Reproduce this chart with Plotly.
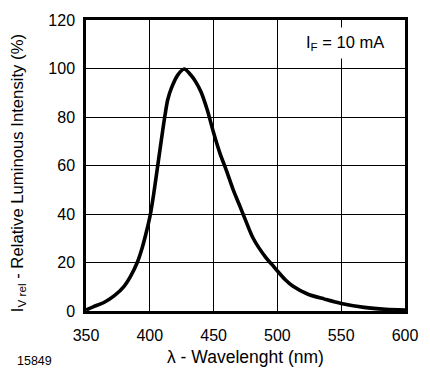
import plotly.graph_objects as go

wavelength = [350, 356, 364, 372, 380, 385, 390, 394, 397.5, 400.5, 403, 406.5, 410, 412, 414, 417,
              422, 427, 432, 436, 440, 445, 450, 455, 460, 465, 470, 475, 481, 491, 496, 500, 506, 512,
              524, 537, 550, 568, 585, 600]
intensity = [0.4, 1.8, 3.5, 6.2, 10.3, 14.4, 19.8, 26, 33, 40, 48, 61, 74, 81, 87, 92,
             97.4, 99.8, 97.4, 94.5, 90.5, 83, 73.5, 65, 58, 50.5, 44, 37.5, 30, 22, 19, 16.5, 13, 10.3,
             6.9, 4.9, 3.1, 1.5, 0.7, 0.4]

x_ticks = [350, 400, 450, 500, 550, 600]
y_ticks = [0, 20, 40, 60, 80, 100, 120]

FONT = "Liberation Sans, Arial, Helvetica, sans-serif"

fig = go.Figure()
fig.add_trace(go.Scatter(x=wavelength, y=intensity, mode="lines",
                         line=dict(color="black", width=3.6, shape="spline", smoothing=0.8),
                         hoverinfo="skip", showlegend=False))

axis_common = dict(showline=True, linecolor="black", linewidth=2.5, mirror=True,
                   showgrid=True, gridcolor="black", gridwidth=1, zeroline=False,
                   ticks="", tickfont=dict(family=FONT, size=16, color="black"))

fig.update_xaxes(range=[350, 600], tickvals=x_ticks, ticklabelstandoff=8, **axis_common)
fig.update_yaxes(range=[0, 120], tickvals=y_ticks, ticklabelstandoff=5, **axis_common)

fig.update_layout(
    width=430, height=375,
    margin=dict(l=86, r=18, t=16, b=64),
    plot_bgcolor="white", paper_bgcolor="white",
    font=dict(family=FONT, color="black"),
    annotations=[
        dict(text="λ - Wavelenght (nm)", xref="paper", yref="paper", x=0.5, y=-0.158,
             xanchor="center", yanchor="middle", showarrow=False,
             font=dict(family=FONT, size=17.5, color="black")),
        dict(text="I<sub>V rel</sub> - Relative Luminous Intensity (%)", xref="paper", yref="paper",
             x=-0.212, y=0.475, xanchor="center", yanchor="middle", textangle=-90, showarrow=False,
             font=dict(family=FONT, size=16.7, color="black")),
        dict(text="I<sub>F</sub> = 10 mA", xref="paper", yref="paper", x=0.812, y=0.92,
             xanchor="center", yanchor="middle", showarrow=False, bgcolor="white", borderpad=5,
             font=dict(family=FONT, size=16.5, color="black")),
        dict(text="15849", xref="paper", yref="paper", x=-0.16, y=-0.172,
             xanchor="center", yanchor="middle", showarrow=False,
             font=dict(family=FONT, size=12.5, color="black")),
    ],
)

fig.write_html("out.html", config={"displayModeBar": False},
               post_script="document.body.style.margin='0';")
